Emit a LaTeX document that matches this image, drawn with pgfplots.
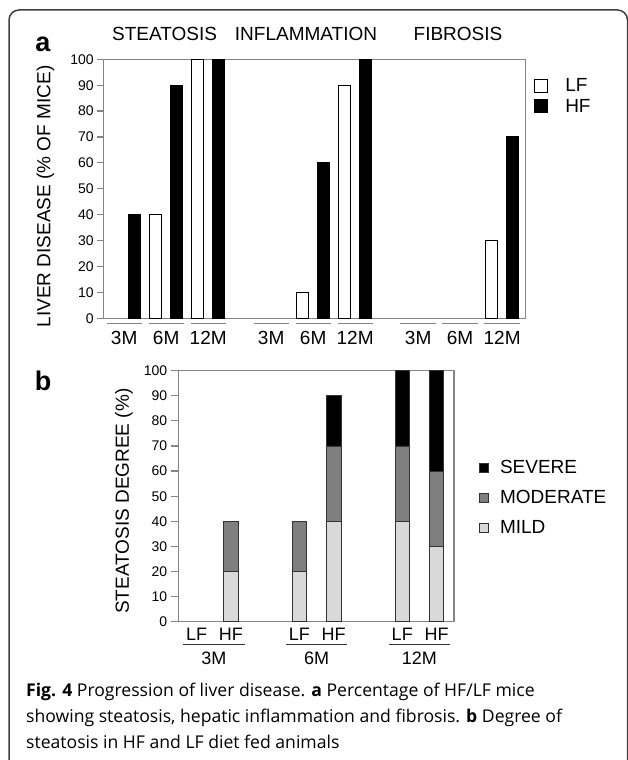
\documentclass[border=0pt]{standalone}
\usepackage{pgfplots}
\pgfplotsset{compat=1.18}
\usepackage{fontspec}
\setmainfont{Liberation Sans}
\newfontfamily\capfont{Open Sans}
\definecolor{axisgray}{HTML}{858585}
\definecolor{mildgray}{HTML}{D9D9D9}
\definecolor{modgray}{HTML}{7F7F7F}
\newcommand\fsz[1]{\fontsize{#1}{#1}\selectfont}

\pgfplotsset{
  panel/.style={
    scale only axis, anchor=south west, clip=false,
    ymin=0, ymax=100, ytick={0,10,...,100},
    tick align=outside, ytick pos=left,
    axis line style={axisgray, line width=1.2pt},
    y tick style={axisgray, line width=1.2pt},
    x tick style={draw=none},
    yticklabel style={font=\fsz{14}},
    /pgf/number format/assume math mode=true,
    legend cell align=left,
    legend style={draw=none, fill=none, inner sep=0pt, nodes={inner sep=1pt}},
  },
  sqa/.style={legend image code/.code={\draw[##1] (0pt,-6.5pt) rectangle (13pt,6.5pt);}},
  sqb/.style={legend image code/.code={\draw[##1] (0pt,-4.5pt) rectangle (9pt,4.5pt);}},
}

\begin{document}
\begin{tikzpicture}[x=1pt,y=1pt]
\useasboundingbox (0,0) rectangle (627,760);
\draw[line width=1.5pt, black!75, rounded corners=10pt] (9,-30) rectangle (627.5,750);

% panel a
\begin{axis}[panel,
  at={(103.2pt,441.7pt)}, width=422pt, height=259pt,
  xmin=-0.5, xmax=9.55,
  major tick length=6pt,
  xtick={0,1,2,3.5,4.5,5.5,7,8,9},
  xticklabels={3M,6M,12M,3M,6M,12M,3M,6M,12M},
  xticklabel style={font=\fsz{19}, yshift=-3.5pt},
  ylabel={LIVER DISEASE (\% OF MICE)},
  ylabel style={at={(axis description cs:-0.137,0.47)}, anchor=center, font=\fsz{19}},
  legend style={at={(1.021,0.93)}, anchor=north west, font=\fsz{19}, row sep=4pt,
    /tikz/every odd column/.append style={column sep=16pt}},
]
\addplot[ybar, bar width=0.3, bar shift=0pt, fill=white, draw=black, line width=1pt, sqa]
  coordinates {(0.75,40) (1.75,100) (4.25,10) (5.25,90) (8.75,30)};
\addlegendentry{LF}
\addplot[ybar, bar width=0.3, bar shift=0pt, fill=black, draw=black, line width=1pt, sqa]
  coordinates {(0.25,40) (1.25,90) (2.25,100) (4.75,60) (5.75,100) (9.25,70)};
\addlegendentry{HF}
\pgfplotsinvokeforeach{0,1,2,3.5,4.5,5.5,7,8,9}{
  \draw[axisgray, line width=1.5pt] ([yshift=-5pt]axis cs:#1-0.42,0) -- ([yshift=-5pt]axis cs:#1+0.42,0);
}
\end{axis}

% panel b
\begin{axis}[panel,
  at={(178.8pt,138.3pt)}, width=275.2pt, height=251pt,
  xmin=-0.52, xmax=7.51,
  ybar stacked, bar width=0.42,
  major tick length=8pt,
  xtick={0,1,3,4,6,7},
  xticklabels={LF,HF,LF,HF,LF,HF},
  xticklabel style={font=\fsz{18}, yshift=5.5pt},
  ylabel={STEATOSIS DEGREE (\%)},
  ylabel style={at={(axis description cs:-0.199,0.48)}, anchor=center, font=\fsz{19}},
  reverse legend,
  legend style={at={(1.091,0.648)}, anchor=north west, font=\fsz{19}, row sep=13.4pt,
    /tikz/every odd column/.append style={column sep=10pt}},
]
\addplot[fill=mildgray, draw=black!80, line width=0.8pt, sqb]
  coordinates {(1,20) (3,20) (4,40) (6,40) (7,30)};
\addlegendentry{MILD}
\addplot[fill=modgray, draw=black!80, line width=0.8pt, sqb]
  coordinates {(1,20) (3,20) (4,30) (6,30) (7,30)};
\addlegendentry{MODERATE}
\addplot[fill=black, draw=black!80, line width=0.8pt, sqb]
  coordinates {(1,0) (3,0) (4,20) (6,30) (7,40)};
\addlegendentry{SEVERE}
\pgfplotsinvokeforeach{0.5,3.5,6.5}{
  \draw[black!80, line width=1.2pt] ([yshift=-22.6pt]axis cs:#1-0.9,0) -- ([yshift=-22.6pt]axis cs:#1+0.9,0);
}
\node[font=\fsz{18}] at ([yshift=-37pt]axis cs:0.5,0) {3M};
\node[font=\fsz{18}] at ([yshift=-37pt]axis cs:3.5,0) {6M};
\node[font=\fsz{18}] at ([yshift=-37pt]axis cs:6.5,0) {12M};
\end{axis}

% titles and panel letters
\node[font=\fsz{19}] at (164.6,726) {STEATOSIS};
\node[font=\fsz{19}] at (306,726) {INFLAMMATION};
\node[font=\fsz{19}] at (458,726) {FIBROSIS};
\node[font=\bfseries\fsz{27}] at (43,716) {a};
\node[font=\bfseries\fsz{27}] at (43,379) {b};

% caption
\begin{scope}[every node/.style={anchor=base west, inner sep=0pt, font=\capfont\fsz{17.6}}]
\node at (26,63) {\textbf{Fig. 4} Progression of liver disease. \textbf{a} Percentage of HF/LF mice};
\node at (26,37) {showing steatosis, hepatic inflammation and fibrosis. \textbf{b} Degree of};
\node at (26,12) {steatosis in HF and LF diet fed animals};
\end{scope}
\end{tikzpicture}
\end{document}
